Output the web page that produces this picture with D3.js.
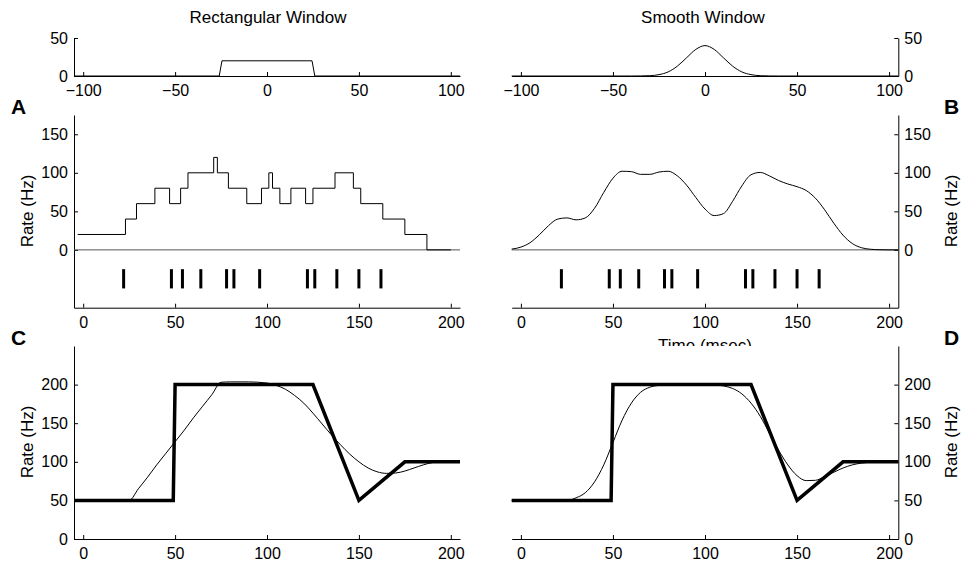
<!DOCTYPE html>
<html>
<head>
<meta charset="utf-8">
<script src="https://cdn.jsdelivr.net/npm/d3@7"></script>
<style>
  body { margin: 0; background: #fff; }
  svg { display: block; font-family: "Liberation Sans", Arial, sans-serif; }
  .axis path, .axis line { stroke: #000; }
  .axis text { font-size: 16px; fill: #000; font-family: "Liberation Sans", Arial, sans-serif; }
</style>
</head>
<body>
<div id="chart"></div>
<script>
// tick labels
const kernelTicks = [-100, -50, 0, 50, 100];
const kernelYTicks = [0, 50];
const timeTicks = [0, 50, 100, 150, 200];
const rateTicksAB = [0, 50, 100, 150];
const rateTicksCD = [0, 50, 100, 150, 200];

// window kernels (Hz)
const rectKernelT = [-105, -26, -24.5, 24.5, 26, 105];
const rectKernelV = [0, 0, 20, 20, 0, 0];
const smoothKernelT = [-105, -40, -35, -30, -25, -20, -15, -10, -5, 0, 5, 10, 15, 20, 25, 30, 35, 40, 105];
const smoothKernelV = [0, 0, 0.1, 0.4, 1.8, 5.4, 13, 24, 35, 40, 35, 24, 13, 5.4, 1.8, 0.4, 0.1, 0, 0];

// spike train (msec)
const spikeTimes = [22, 48, 54, 64, 78, 82, 96, 122, 126, 138, 150, 162];

// rectangular window rate estimate: step edges and levels
const rectRateEdges = [-3, 23, 29, 39, 47, 53, 57, 71, 73, 79, 89, 97, 101, 103, 107, 113, 121, 125, 137, 147, 151, 163, 175, 187, 200];
const rectRateLevels = [20, 40, 60, 80, 60, 80, 100, 120, 100, 80, 60, 80, 100, 80, 60, 80, 60, 80, 100, 80, 60, 40, 20, 0];

// smooth window rate estimate
const smoothRateT = [-5, 0, 5, 10, 15, 20, 25, 30, 35, 40, 45, 50, 55, 60, 65, 70, 75, 80, 85, 90, 95, 100,
  105, 110, 115, 120, 125, 130, 135, 140, 145, 150, 155, 160, 165, 170, 175, 180, 185, 190, 195, 200, 205];
const smoothRateV = [1, 3.6, 9.4, 19.5, 31.5, 40, 41.5, 39, 41.5, 54, 74.5, 93, 102, 101.5, 98, 98, 101, 102, 96, 84, 68, 53,
  44.5, 47, 63, 83, 97.5, 100.5, 96, 90, 85.5, 82, 77, 67, 52, 34.5, 19, 8.3, 2.8, 0.8, 0.2, 0, 0];

// true rate (thick)
const trueRateT = [-5, 49, 50, 125, 150, 175, 205];
const trueRateV = [50, 50, 200, 200, 50, 100, 100];

// rectangular window estimate of true rate (thin, panel C)
const rectEstT = [-5, 25, 30, 35, 40, 45, 50, 55, 60, 65, 70, 75, 80, 90, 100, 105, 110, 115, 120, 125, 130, 135, 140, 145, 150,
  155, 160, 165, 170, 175, 180, 185, 190, 195, 205];
const rectEstV = [50, 50, 65, 80, 96, 111, 126, 141, 157, 172, 187, 203, 203.5, 203.5, 202, 199, 194, 186, 176, 163, 149, 135, 122, 110, 100,
  92, 87, 85, 85.5, 88, 92, 96, 99, 100, 100];

// smooth window estimate of true rate (thin, panel D)
const smoothEstT = [-5, 25, 30, 35, 40, 45, 50, 55, 60, 65, 70, 75, 80, 100, 105, 110, 115, 120, 125, 130, 135, 140, 145, 150,
  155, 160, 165, 170, 175, 180, 185, 190, 195, 205];
const smoothEstV = [50, 50, 53.4, 60, 74, 96, 125, 154, 176, 190, 196.6, 199, 200, 200, 199.5, 198.3, 195, 188, 176, 159, 137, 115, 96, 82,
  75.6, 76, 81, 86.5, 92, 96, 98.3, 99.4, 99.9, 100];

const svg = d3.select('#chart')
  .append('svg')
  .attr('width', 961)
  .attr('height', 565);

const leftX = [74, 460];
const rightX = [511.7, 898.3];

function makePanel(xRange, yRange, xDomain, yDomain, side, xTicks, yTicks) {
  const x = d3.scaleLinear().domain(xDomain).range(xRange);
  const y = d3.scaleLinear().domain(yDomain).range(yRange);
  const g = svg.append('g');

  g.append('g')
    .attr('class', 'axis')
    .attr('transform', `translate(0, ${yRange[0]})`)
    .call(d3.axisBottom(x).tickValues(xTicks).tickSizeInner(-4).tickSizeOuter(0).tickPadding(9));

  const yAxis = side === 'left' ? d3.axisLeft(y) : d3.axisRight(y);
  g.append('g')
    .attr('class', 'axis')
    .attr('transform', `translate(${side === 'left' ? xRange[0] : xRange[1]}, 0)`)
    .call(yAxis.tickValues(yTicks).tickSizeInner(-4).tickSizeOuter(0).tickPadding(6));

  return { x, y, g };
}

function drawLine(p, ts, vs, width, curve) {
  const line = d3.line()
    .x(d => p.x(d[0]))
    .y(d => p.y(d[1]))
    .curve(curve || d3.curveLinear);
  p.g.append('path')
    .datum(d3.zip(ts, vs))
    .attr('d', line)
    .attr('fill', 'none')
    .attr('stroke', '#000')
    .attr('stroke-width', width)
    .attr('stroke-linejoin', 'miter');
}

function zeroLine(p) {
  p.g.append('line')
    .attr('x1', p.x.range()[0])
    .attr('x2', p.x.range()[1])
    .attr('y1', p.y(0))
    .attr('y2', p.y(0))
    .attr('stroke', '#555')
    .attr('stroke-width', 1);
}

function spikes(p) {
  p.g.selectAll('.spike')
    .data(spikeTimes)
    .join('line')
    .attr('class', 'spike')
    .attr('x1', d => p.x(d))
    .attr('x2', d => p.x(d))
    .attr('y1', p.y(-25))
    .attr('y2', p.y(-50))
    .attr('stroke', '#000')
    .attr('stroke-width', 3);
}

// kernels
const kL = makePanel(leftX, [76, 38], [-105, 105], [0, 50], 'left', kernelTicks, kernelYTicks);
drawLine(kL, rectKernelT, rectKernelV, 1);
const kR = makePanel(rightX, [76, 38], [-105, 105], [0, 50], 'right', kernelTicks, kernelYTicks);
drawLine(kR, smoothKernelT, smoothKernelV, 1, d3.curveMonotoneX);

// rate estimates from spikes
const pA = makePanel(leftX, [307.7, 115], [-5, 205], [-75, 175], 'left', timeTicks, rateTicksAB);
zeroLine(pA);
const rectPts = rectRateEdges.map((t, i) => rectRateLevels[Math.min(i, rectRateLevels.length - 1)]);
drawLine(pA, rectRateEdges, rectPts, 1, d3.curveStepAfter);
spikes(pA);

const pB = makePanel(rightX, [307.7, 115], [-5, 205], [-75, 175], 'right', timeTicks, rateTicksAB);
zeroLine(pB);
drawLine(pB, smoothRateT, smoothRateV, 1, d3.curveMonotoneX);
spikes(pB);

// x label of B, partly hidden under panel D
svg.append('clipPath').attr('id', 'clipTime')
  .append('rect').attr('x', 0).attr('y', 0).attr('width', 961).attr('height', 346);
svg.append('text')
  .attr('x', 705)
  .attr('y', 351)
  .attr('text-anchor', 'middle')
  .attr('font-size', 17)
  .attr('clip-path', 'url(#clipTime)')
  .text('Time (msec)');

// true rate vs estimates
const pC = makePanel(leftX, [539, 346], [-5, 205], [0, 250], 'left', timeTicks, rateTicksCD);
drawLine(pC, rectEstT, rectEstV, 1, d3.curveMonotoneX);
drawLine(pC, trueRateT, trueRateV, 3.5);

const pD = makePanel(rightX, [539, 346], [-5, 205], [0, 250], 'right', timeTicks, rateTicksCD);
drawLine(pD, smoothEstT, smoothEstV, 1, d3.curveMonotoneX);
drawLine(pD, trueRateT, trueRateV, 3.5);

// titles
svg.append('text').attr('x', 268).attr('y', 23).attr('text-anchor', 'middle').attr('font-size', 17).text('Rectangular Window');
svg.append('text').attr('x', 703).attr('y', 23).attr('text-anchor', 'middle').attr('font-size', 17).text('Smooth Window');

// y labels
[[33, 211], [33, 442], [957, 211], [957, 442]].forEach(([x, y]) => {
  svg.append('text')
    .attr('transform', `translate(${x}, ${y}) rotate(-90)`)
    .attr('text-anchor', 'middle')
    .attr('font-size', 17)
    .text('Rate (Hz)');
});

// panel letters
[['A', 11, 114], ['B', 944, 114], ['C', 11, 345], ['D', 944, 345]].forEach(([s, x, y]) => {
  svg.append('text')
    .attr('x', x)
    .attr('y', y)
    .attr('font-size', 21)
    .attr('font-weight', 'bold')
    .text(s);
});
</script>
</body>
</html>
